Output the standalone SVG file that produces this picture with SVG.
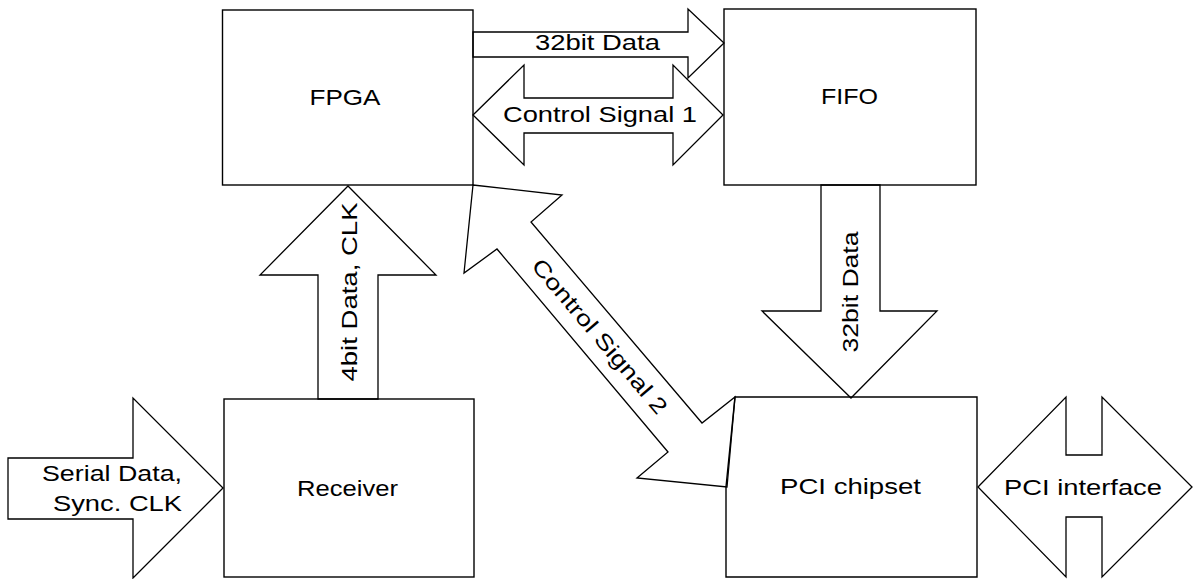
<svg xmlns="http://www.w3.org/2000/svg" width="1194" height="579" viewBox="0 0 1194 579">
<style>
.box{fill:none;stroke:#000;stroke-width:1.4}
.arr{fill:none;stroke:#000;stroke-width:1.3;stroke-linejoin:miter}
text{font-family:"Liberation Sans",Arial,sans-serif;font-size:22px;fill:#000;text-anchor:middle}
</style>
<rect width="1194" height="579" fill="#fff"/>
<g id="connectors">
<polygon class="arr" points="473,32 688,32 688,9 724,43 688,78 688,57 473,57"/>
<polygon class="arr" points="473,115 524,65 524,98 673,98 673,65 723,115 673,165 673,133 524,133 524,165"/>
<polygon class="arr" points="348,186 436,275 378,275 378,399 318,399 318,275 260,275"/>
<polygon class="arr" points="821,185 880,185 880,311 937,311 851,398 762,311 821,311"/>
<polygon class="arr" points="8,458 133,458 133,398 223,488 133,578 133,519 8,519"/>
<polygon class="arr" points="978,487 1066,397 1066,455 1102,455 1102,397 1192,487 1102,577 1102,517 1066,517 1066,577"/>
<polygon class="arr" points="473,185 562,195 531,222 702,423 735,397 727,487 637,478 668,452 497,249 464,273"/>
<text x="597.5" y="50" textLength="125" lengthAdjust="spacingAndGlyphs">32bit Data</text>
<text x="600" y="122" textLength="194" lengthAdjust="spacingAndGlyphs">Control Signal 1</text>
<text transform="translate(349,292) rotate(-90)" y="8" textLength="179" lengthAdjust="spacingAndGlyphs">4bit Data, CLK</text>
<text transform="translate(850,292) rotate(-90)" y="8" textLength="121" lengthAdjust="spacingAndGlyphs">32bit Data</text>
<text transform="translate(600,336) rotate(49.6)" y="8" textLength="196" lengthAdjust="spacingAndGlyphs">Control Signal 2</text>
<text x="112" y="481" textLength="140" lengthAdjust="spacingAndGlyphs">Serial Data,</text>
<text x="117.5" y="511" textLength="129" lengthAdjust="spacingAndGlyphs">Sync. CLK</text>
<text x="1083" y="495" textLength="158" lengthAdjust="spacingAndGlyphs">PCI interface</text>
</g>
<g id="fpga">
<rect class="box" x="222.5" y="10" width="250.5" height="175"/>
<text x="345" y="105" textLength="71" lengthAdjust="spacingAndGlyphs">FPGA</text>
</g>
<g id="fifo">
<rect class="box" x="724" y="9" width="252" height="176"/>
<text x="849.5" y="104" textLength="57" lengthAdjust="spacingAndGlyphs">FIFO</text>
</g>
<g id="receiver">
<rect class="box" x="224" y="399" width="250" height="178"/>
<text x="347.5" y="496" textLength="101" lengthAdjust="spacingAndGlyphs">Receiver</text>
</g>
<g id="pci-chipset">
<polygon class="box" points="735,397 977,397 977,577 726,577 726,487"/>
<text x="850.5" y="494" textLength="141" lengthAdjust="spacingAndGlyphs">PCI chipset</text>
</g>
</svg>
